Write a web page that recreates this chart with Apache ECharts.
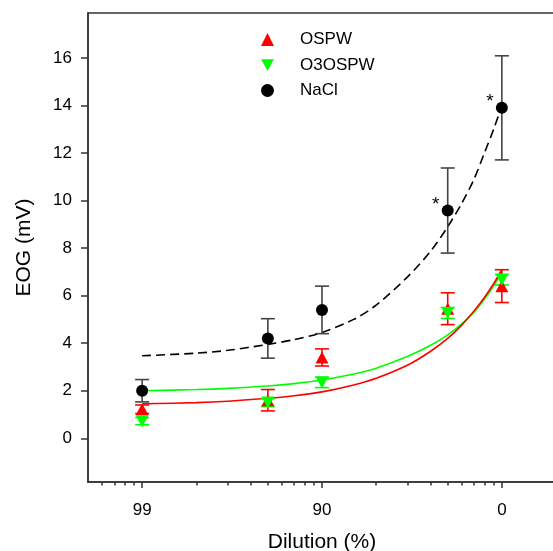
<!DOCTYPE html>
<html>
<head>
<meta charset="utf-8">
<script src="https://cdn.jsdelivr.net/npm/echarts@6/dist/echarts.min.js"></script>
<style>
  html, body { margin: 0; padding: 0; background: #fff; }
  #chart { width: 553px; height: 551px; }
</style>
</head>
<body>
<div id="chart"></div>
<script>
  // sample concentration (%), shown on the axis as dilution (%)
  var conc = [1, 5, 10, 50, 100];
  var xTickValues = [1, 10, 100];
  var xTickLabels = ['99', '90', '0'];
  var xMinorTicks = [0.6, 0.7, 0.8, 0.9, 2, 3, 4, 5, 6, 7, 8, 9, 20, 30, 40, 50, 60, 70, 80, 90];
  var yTickValues = [0, 2, 4, 6, 8, 10, 12, 14, 16];

  var ospwMean = [1.22, 1.6, 3.4, 5.45, 6.4];
  var ospwErr = [0.18, 0.45, 0.36, 0.67, 0.69];
  var o3Mean = [0.72, 1.5, 2.35, 5.27, 6.67];
  var o3Err = [0.15, 0.17, 0.22, 0.23, 0.22];
  var naclMean = [2.0, 4.2, 5.4, 9.58, 13.9];
  var naclErr = [0.47, 0.83, 1.0, 1.79, 2.19];
  var naclStar = [false, false, false, true, true];

  // fitted curves
  var fitConc = [1, 2, 3, 5, 7, 10, 15, 20, 30, 40, 50, 60, 70, 80, 90, 100];
  var ospwFit = [1.45, 1.5, 1.56, 1.68, 1.79, 1.95, 2.24, 2.52, 3.08, 3.65, 4.2, 4.77, 5.35, 5.92, 6.5, 7.1];
  var o3Fit = [2.0, 2.05, 2.1, 2.2, 2.3, 2.45, 2.7, 2.95, 3.45, 3.9, 4.35, 4.82, 5.3, 5.85, 6.4, 7.0];
  var naclFit = [3.47, 3.58, 3.7, 3.95, 4.15, 4.45, 5.0, 5.6, 6.8, 7.85, 8.9, 9.9, 10.9, 12.0, 13.0, 14.0];

  var RED = '#ff0000', GREEN = '#00ff00', BLACK = '#000000', AXIS = '#333333';
  var FONT = 'Liberation Sans, Arial, sans-serif';
  var DOWN_TRI = 'path://M0,0L10,0L5,8.66Z';

  function pairs(xs, ys) {
    var out = [];
    for (var i = 0; i < xs.length; i++) out.push([xs[i], ys[i]]);
    return out;
  }

  function errorSeries(name, mean, err, color) {
    var data = [];
    for (var i = 0; i < conc.length; i++) {
      data.push([conc[i], mean[i] - err[i], mean[i] + err[i]]);
    }
    return {
      type: 'custom',
      name: name + ' err',
      data: data,
      z: 2,
      silent: true,
      encode: { x: 0, y: [1, 2] },
      renderItem: function (params, api) {
        var lo = api.coord([api.value(0), api.value(1)]);
        var hi = api.coord([api.value(0), api.value(2)]);
        var w = 7;
        var style = { stroke: color, lineWidth: 1.6, fill: null };
        return {
          type: 'group',
          children: [
            { type: 'line', shape: { x1: lo[0], y1: lo[1], x2: hi[0], y2: hi[1] }, style: style },
            { type: 'line', shape: { x1: lo[0] - w, y1: lo[1], x2: lo[0] + w, y2: lo[1] }, style: style },
            { type: 'line', shape: { x1: hi[0] - w, y1: hi[1], x2: hi[0] + w, y2: hi[1] }, style: style }
          ]
        };
      }
    };
  }

  function fitSeries(name, ys, color, dashed) {
    return {
      type: 'line',
      name: name + ' fit',
      data: pairs(fitConc, ys),
      smooth: 0.3,
      showSymbol: false,
      silent: true,
      z: 1,
      lineStyle: { color: color, width: 1.6, type: dashed ? [9, 5] : 'solid' }
    };
  }

  function xLabel(v) {
    for (var i = 0; i < xTickValues.length; i++) {
      if (Math.abs(Math.log10(v) - Math.log10(xTickValues[i])) < 1e-6) return xTickLabels[i];
    }
    return '';
  }

  var naclData = [];
  for (var i = 0; i < conc.length; i++) {
    naclData.push({ value: [conc[i], naclMean[i]], label: { show: naclStar[i] } });
  }

  var chart = echarts.init(document.getElementById('chart'));
  var option = {
    backgroundColor: '#fff',
    animation: false,
    textStyle: { fontFamily: FONT },
    grid: {
      left: 88, top: 13, width: 468, height: 469,
      outerBoundsMode: 'none',
      containLabel: false,
      show: true, borderColor: AXIS, borderWidth: 1.5, backgroundColor: 'transparent'
    },
    legend: {
      data: ['OSPW', 'O3OSPW', 'NaCl'],
      orient: 'vertical',
      left: 256,
      top: 26,
      itemWidth: 13,
      itemHeight: 13,
      itemGap: 8.5,
      textStyle: { fontSize: 17, color: '#000', fontFamily: FONT, padding: [0, 0, 0, 21] }
    },
    xAxis: [
      {
        type: 'log', logBase: 10, min: 0.5, max: 200,
        name: 'Dilution (%)', nameLocation: 'middle', nameGap: 50,
        nameTextStyle: { fontSize: 21, color: '#000', fontFamily: FONT },
        axisLine: { show: true, onZero: false, lineStyle: { color: AXIS, width: 1.5 } },
        axisTick: { show: true, customValues: xTickValues, length: 6, lineStyle: { color: AXIS, width: 1.5 } },
        axisLabel: { customValues: xTickValues, formatter: xLabel, margin: 20, fontSize: 17, color: '#000', fontFamily: FONT },
        splitLine: { show: false }
      },
      {
        type: 'log', logBase: 10, min: 0.5, max: 200, position: 'bottom',
        axisLine: { show: false, onZero: false },
        axisTick: { show: true, customValues: xMinorTicks, length: 3.5, lineStyle: { color: AXIS, width: 1.5 } },
        axisLabel: { show: false },
        splitLine: { show: false }
      }
    ],
    yAxis: {
      type: 'value', min: -1.84, max: 17.89,
      name: 'EOG (mV)', nameLocation: 'middle', nameGap: 53, nameRotate: 90,
      nameTextStyle: { fontSize: 21, color: '#000', fontFamily: FONT },
      axisLine: { show: true, onZero: false, lineStyle: { color: AXIS, width: 1.5 } },
      axisTick: { show: true, customValues: yTickValues, length: 7, lineStyle: { color: AXIS, width: 1.5 } },
      axisLabel: { customValues: yTickValues, margin: 16, fontSize: 17, color: '#000', fontFamily: FONT },
      splitLine: { show: false }
    },
    series: [
      fitSeries('NaCl', naclFit, BLACK, true),
      fitSeries('O3OSPW', o3Fit, GREEN, false),
      fitSeries('OSPW', ospwFit, RED, false),
      errorSeries('OSPW', ospwMean, ospwErr, RED),
      errorSeries('O3OSPW', o3Mean, o3Err, GREEN),
      errorSeries('NaCl', naclMean, naclErr, '#444444'),
      {
        type: 'scatter', name: 'OSPW', data: pairs(conc, ospwMean), z: 3,
        symbol: 'triangle', symbolSize: [13, 12], itemStyle: { color: RED, opacity: 1 }
      },
      {
        type: 'scatter', name: 'O3OSPW', data: pairs(conc, o3Mean), z: 4,
        symbol: DOWN_TRI, symbolSize: [13, 12], itemStyle: { color: GREEN, opacity: 1 }
      },
      {
        type: 'scatter', name: 'NaCl', data: naclData, z: 5,
        symbol: 'circle', symbolSize: 12, itemStyle: { color: BLACK, opacity: 1 },
        label: {
          show: false, formatter: '*', position: [-6, 0], align: 'center', verticalAlign: 'middle',
          fontSize: 19, color: '#000', fontFamily: FONT
        }
      }
    ]
  };
  chart.setOption(option);
</script>
</body>
</html>
